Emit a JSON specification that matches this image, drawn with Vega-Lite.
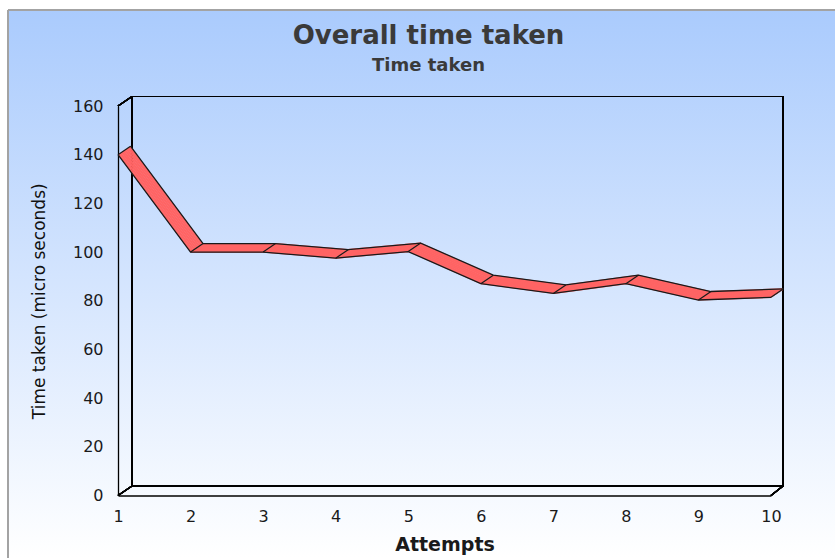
{
  "$schema": "https://vega.github.io/schema/vega-lite/v6.json",
  "width": 827,
  "height": 548,
  "autosize": {"type": "none"},
  "padding": {"left": 8, "top": 10, "right": 0, "bottom": 0},
  "background": "#ffffff",
  "view": {
    "fill": {
      "gradient": "linear",
      "x1": 0, "y1": 0, "x2": 0, "y2": 1,
      "stops": [
        {"offset": 0, "color": "#aacbfd"},
        {"offset": 1, "color": "#ffffff"}
      ]
    },
    "stroke": "#a3a3a3",
    "strokeWidth": 2,
    "strokeDash": [827, 1375, 548, 0]
  },
  "title": {
    "text": "Overall time taken",
    "subtitle": "Time taken",
    "anchor": "middle",
    "frame": "group",
    "offset": -65,
    "dx": 7,
    "font": "DejaVu Sans",
    "fontSize": 26,
    "fontWeight": 600,
    "color": "#3a3a3a",
    "subtitleFont": "DejaVu Sans",
    "subtitleFontSize": 18,
    "subtitleFontWeight": 600,
    "subtitleColor": "#3a3a3a",
    "subtitlePadding": 8
  },
  "data": {
    "values": [
      {"attempt": 1, "time": 140},
      {"attempt": 2, "time": 100},
      {"attempt": 3, "time": 100},
      {"attempt": 4, "time": 97.5},
      {"attempt": 5, "time": 100.2},
      {"attempt": 6, "time": 87},
      {"attempt": 7, "time": 83},
      {"attempt": 8, "time": 87},
      {"attempt": 9, "time": 80.3},
      {"attempt": 10, "time": 81.4}
    ]
  },
  "encoding": {
    "x": {
      "field": "attempt",
      "type": "quantitative",
      "scale": {"domain": [1, 10], "range": [110, 763]},
      "axis": {
        "values": [1, 2, 3, 4, 5, 6, 7, 8, 9, 10],
        "format": "d",
        "offset": -62.5,
        "grid": false,
        "ticks": false,
        "tickSize": 0,
        "labelFlush": false,
        "labelOverlap": false,
        "domainColor": "#000000",
        "domainWidth": 1.3,
        "labelFont": "DejaVu Sans",
        "labelFontSize": 16,
        "labelColor": "#1a1a1a",
        "labelPadding": 13,
        "title": "Attempts",
        "titleFont": "DejaVu Sans",
        "titleFontSize": 19,
        "titleFontWeight": "bold",
        "titleColor": "#1a1a1a",
        "titlePadding": 11
      }
    },
    "y": {
      "field": "time",
      "type": "quantitative",
      "scale": {"domain": [0, 160], "range": [485.5, 96]},
      "axis": {
        "values": [0, 20, 40, 60, 80, 100, 120, 140, 160],
        "offset": -110,
        "grid": false,
        "ticks": false,
        "tickSize": 0,
        "labelFlush": false,
        "labelOverlap": false,
        "domainColor": "#000000",
        "domainWidth": 1.3,
        "labelFont": "DejaVu Sans",
        "labelFontSize": 16,
        "labelColor": "#1a1a1a",
        "labelPadding": 15,
        "title": "Time taken (micro seconds)",
        "titleFont": "DejaVu Sans",
        "titleFontSize": 17,
        "titleFontWeight": "normal",
        "titleColor": "#111111",
        "titlePadding": 24
      }
    }
  },
  "layer": [
    {
      "mark": {"type": "rect", "fillOpacity": 0, "stroke": "#000000", "strokeWidth": 1.2, "xOffset": 14, "x2Offset": 12, "yOffset": -9.5, "y2Offset": -9.5},
      "encoding": {
        "x": {"datum": 1, "type": "quantitative"},
        "x2": {"datum": 10},
        "y": {"datum": 0, "type": "quantitative"},
        "y2": {"datum": 160}
      }
    },
    {
      "mark": {"type": "rule", "color": "#000000", "strokeWidth": 1.2, "x2Offset": 14, "y2Offset": -9.5},
      "encoding": {
        "x": {"datum": 1, "type": "quantitative"},
        "x2": {"datum": 1},
        "y": {"datum": 0, "type": "quantitative"},
        "y2": {"datum": 0}
      }
    },
    {
      "mark": {"type": "rule", "color": "#000000", "strokeWidth": 1.2, "x2Offset": 14, "y2Offset": -9.5},
      "encoding": {
        "x": {"datum": 1, "type": "quantitative"},
        "x2": {"datum": 1},
        "y": {"datum": 160, "type": "quantitative"},
        "y2": {"datum": 160}
      }
    },
    {
      "mark": {"type": "rule", "color": "#000000", "strokeWidth": 1.2, "x2Offset": 12, "y2Offset": -9.5},
      "encoding": {
        "x": {"datum": 10, "type": "quantitative"},
        "x2": {"datum": 10},
        "y": {"datum": 0, "type": "quantitative"},
        "y2": {"datum": 0}
      }
    },
    {"mark": {"type": "line", "color": "#ff6464", "strokeWidth": 2.2, "strokeJoin": "bevel", "xOffset": 0.78, "yOffset": -0.53}},
    {"mark": {"type": "line", "color": "#ff6464", "strokeWidth": 2.2, "strokeJoin": "bevel", "xOffset": 2.34, "yOffset": -1.59}},
    {"mark": {"type": "line", "color": "#ff6464", "strokeWidth": 2.2, "strokeJoin": "bevel", "xOffset": 3.91, "yOffset": -2.66}},
    {"mark": {"type": "line", "color": "#ff6464", "strokeWidth": 2.2, "strokeJoin": "bevel", "xOffset": 5.47, "yOffset": -3.72}},
    {"mark": {"type": "line", "color": "#ff6464", "strokeWidth": 2.2, "strokeJoin": "bevel", "xOffset": 7.03, "yOffset": -4.78}},
    {"mark": {"type": "line", "color": "#ff6464", "strokeWidth": 2.2, "strokeJoin": "bevel", "xOffset": 8.59, "yOffset": -5.84}},
    {"mark": {"type": "line", "color": "#ff6464", "strokeWidth": 2.2, "strokeJoin": "bevel", "xOffset": 10.16, "yOffset": -6.91}},
    {"mark": {"type": "line", "color": "#ff6464", "strokeWidth": 2.2, "strokeJoin": "bevel", "xOffset": 11.72, "yOffset": -7.97}},
    {"mark": {"type": "line", "color": "#1a1a1a", "strokeWidth": 1.3}},
    {"mark": {"type": "line", "color": "#1a1a1a", "strokeWidth": 1.3, "xOffset": 12.5, "yOffset": -8.5}},
    {
      "mark": {"type": "rule", "color": "#1a1a1a", "strokeWidth": 1.2, "x2Offset": 12.5, "y2Offset": -8.5},
      "encoding": {
        "x2": {"field": "attempt"},
        "y2": {"field": "time"}
      }
    }
  ]
}
